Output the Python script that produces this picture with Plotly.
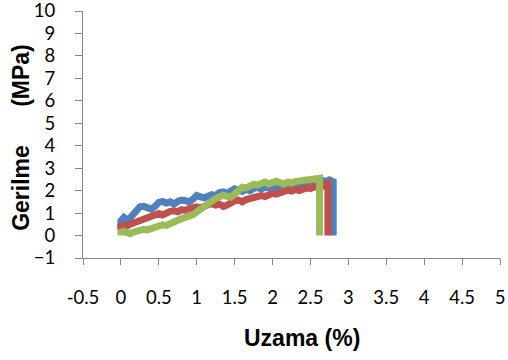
import plotly.graph_objects as go

# Series 1 (blue)
bx = [0.00, 0.00, 0.04, 0.08, 0.12, 0.16, 0.20, 0.25, 0.30, 0.35,
      0.40, 0.45, 0.50, 0.55, 0.60, 0.65, 0.70, 0.75, 0.80, 0.85,
      0.90, 0.95, 1.00, 1.05, 1.10, 1.15, 1.20, 1.25, 1.30, 1.35,
      1.40, 1.45, 1.50, 1.55, 1.60, 1.65, 1.70, 1.75, 1.80, 1.85,
      1.90, 1.95, 2.00, 2.05, 2.10, 2.15, 2.20, 2.25, 2.30, 2.35,
      2.40, 2.45, 2.50, 2.55, 2.60, 2.65, 2.70, 2.75, 2.80, 2.80]
by = [0.30, 0.65, 0.80, 0.70, 0.78, 0.95, 1.10, 1.28, 1.30, 1.22,
      1.18, 1.30, 1.48, 1.52, 1.45, 1.50, 1.40, 1.52, 1.58, 1.55,
      1.50, 1.62, 1.78, 1.72, 1.68, 1.75, 1.82, 1.78, 1.92, 1.95,
      1.88, 1.98, 2.08, 2.02, 1.96, 2.05, 2.00, 2.10, 2.15, 2.08,
      2.15, 2.12, 2.18, 2.14, 2.20, 2.24, 2.18, 2.25, 2.22, 2.20,
      2.26, 2.30, 2.28, 2.35, 2.42, 2.46, 2.40, 2.48, 2.40, 0.00]

# Series 2 (red)
rx = [0.00, 0.00, 0.04, 0.08, 0.12, 0.16, 0.20, 0.25, 0.30, 0.35,
      0.40, 0.45, 0.50, 0.55, 0.60, 0.65, 0.70, 0.75, 0.80, 0.85,
      0.90, 0.95, 1.00, 1.05, 1.10, 1.15, 1.20, 1.25, 1.30, 1.35,
      1.40, 1.45, 1.50, 1.55, 1.60, 1.65, 1.70, 1.75, 1.80, 1.85,
      1.90, 1.95, 2.00, 2.05, 2.10, 2.15, 2.20, 2.25, 2.30, 2.35,
      2.40, 2.45, 2.50, 2.55, 2.60, 2.65, 2.70, 2.73, 2.73]
ry = [0.25, 0.40, 0.45, 0.42, 0.50, 0.55, 0.62, 0.70, 0.68, 0.80,
      0.88, 0.95, 0.98, 0.92, 1.02, 1.08, 1.10, 1.06, 1.15, 1.12,
      1.20, 1.25, 1.28, 1.22, 1.32, 1.38, 1.42, 1.36, 1.40, 1.30,
      1.36, 1.48, 1.55, 1.58, 1.50, 1.60, 1.65, 1.62, 1.70, 1.78,
      1.74, 1.82, 1.88, 1.84, 1.92, 1.96, 2.02, 1.98, 2.05, 2.00,
      2.08, 2.12, 2.10, 2.16, 2.22, 2.18, 2.30, 2.32, 0.00]

# Series 3 (green)
gx = [0.00, 0.00, 0.04, 0.08, 0.12, 0.16, 0.20, 0.25, 0.30, 0.35,
      0.40, 0.45, 0.50, 0.55, 0.60, 0.65, 0.70, 0.75, 0.80, 0.85,
      0.90, 0.95, 1.00, 1.05, 1.10, 1.15, 1.20, 1.25, 1.30, 1.35,
      1.40, 1.45, 1.50, 1.55, 1.60, 1.65, 1.70, 1.75, 1.80, 1.85,
      1.90, 1.95, 2.00, 2.05, 2.10, 2.15, 2.20, 2.25, 2.30, 2.35,
      2.40, 2.45, 2.50, 2.55, 2.60, 2.62, 2.62]
gy = [0.00, 0.15, 0.18, 0.12, 0.08, 0.15, 0.20, 0.22, 0.28, 0.25,
      0.32, 0.38, 0.42, 0.48, 0.45, 0.55, 0.62, 0.68, 0.75, 0.80,
      0.85, 0.92, 1.05, 1.18, 1.30, 1.45, 1.58, 1.65, 1.72, 1.80,
      1.75, 1.72, 1.85, 2.00, 2.15, 2.12, 2.20, 2.28, 2.25, 2.32,
      2.38, 2.30, 2.40, 2.42, 2.35, 2.30, 2.38, 2.34, 2.40, 2.45,
      2.42, 2.48, 2.50, 2.52, 2.55, 2.55, 0.00]

x_ticks = [-0.5, 0, 0.5, 1, 1.5, 2, 2.5, 3, 3.5, 4, 4.5, 5]
x_labels = ["-0.5", "0", "0.5", "1", "1.5", "2", "2.5", "3", "3.5", "4", "4.5", "5"]
y_ticks = list(range(-1, 11))

x_title = "Uzama (%)"
y_title = "Gerilme" + "\u00a0" * 6 + "(MPa)"

fig = go.Figure()
for xs, ys, col in [(bx, by, "#4F81BD"), (rx, ry, "#C0504D"), (gx, gy, "#9BBB59")]:
    fig.add_trace(go.Scatter(x=xs, y=ys, mode="lines",
                             line=dict(color=col, width=7, shape="linear"),
                             showlegend=False, hoverinfo="skip", cliponaxis=False))

tick_font = dict(family="Lato, 'Open Sans', sans-serif", size=18.5, color="#000000")
axis_col = "#868686"

fig.update_layout(
    width=508, height=360,
    margin=dict(l=83, r=8, t=11, b=102, autoexpand=False),
    paper_bgcolor="white", plot_bgcolor="white",
    xaxis=dict(range=[-0.5, 5], tickvals=x_ticks, ticktext=x_labels,
               showgrid=False, zeroline=False, showline=True, linecolor=axis_col,
               linewidth=1, ticks="outside", ticklen=6, tickcolor=axis_col,
               tickfont=tick_font, ticklabelstandoff=17, automargin=False,
               ticklabeloverflow="allow"),
    yaxis=dict(range=[-1, 10], tickvals=y_ticks,
               showgrid=False, zeroline=False, showline=True, linecolor=axis_col,
               linewidth=1, ticks="outside", ticklen=7, tickcolor=axis_col,
               tickfont=tick_font, ticklabelstandoff=16, automargin=False,
               ticklabeloverflow="allow"),
    annotations=[
        dict(text="<b>" + x_title + "</b>", xref="paper", yref="paper",
             x=0.525, y=-0.325, xanchor="center", yanchor="middle", showarrow=False,
             font=dict(family="Liberation Sans, Arial, sans-serif", size=23, color="#000000")),
        dict(text="<b>" + y_title + "</b>", xref="paper", yref="paper",
             x=-0.149, y=0.49, xanchor="center", yanchor="middle", textangle=-90,
             showarrow=False,
             font=dict(family="Liberation Sans, Arial, sans-serif", size=23, color="#000000")),
    ],
)

fig.write_html("out.html", config={"displayModeBar": False},
               post_script="document.body.style.margin='0';")
